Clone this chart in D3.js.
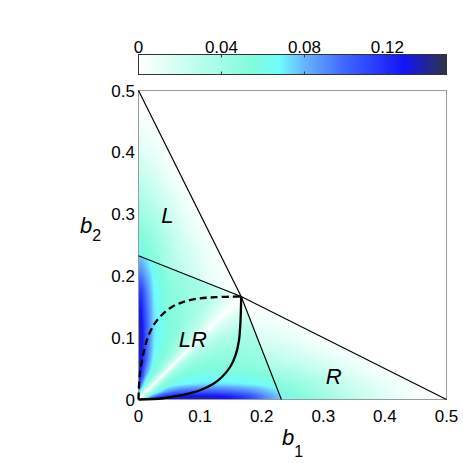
<!DOCTYPE html>
<html>
<head>
<meta charset="utf-8">
<script src="https://cdn.jsdelivr.net/npm/d3@7"></script>
<style>
body { margin: 0; background: #fff; }
svg { display: block; font-family: "Liberation Sans", Arial, sans-serif; }
</style>
</head>
<body>
<svg id="chart" width="463" height="463"></svg>
<script>
/* jshint esversion:6 */
/* global d3 */

// map is mirror symmetric about b1 = b2, so values are read against
// a = min(b1, b2) (distance from the nearer axis) and d = |b1 - b2|

// LR region
const innerA = [0, 0.005, 0.012, 0.025, 0.05, 0.075, 0.1, 0.125, 0.15, 0.17];
const innerD = [0, 0.006, 0.015, 0.03, 0.05, 0.08, 0.11, 0.14, 0.17, 0.2, 0.235];
const innerLevel = [
	[0, 0.05, 0.10, 0.125, 0.135, 0.138, 0.138, 0.13, 0.118, 0.095, 0.072],
	[0, 0.035, 0.08, 0.11, 0.125, 0.132, 0.132, 0.125, 0.112, 0.09, 0.07],
	[0, 0.03, 0.06, 0.085, 0.1, 0.105, 0.105, 0.1, 0.092, 0.078, 0.065],
	[0, 0.03, 0.05, 0.062, 0.068, 0.072, 0.072, 0.07, 0.066, 0.06, 0.055],
	[0, 0.025, 0.04, 0.05, 0.055, 0.055, 0.052, 0.05, 0.045, 0.042, 0.04],
	[0, 0.02, 0.032, 0.04, 0.045, 0.046, 0.045, 0.042, 0.04, 0.038, 0.035],
	[0, 0.014, 0.024, 0.032, 0.037, 0.039, 0.038, 0.036, 0.034, 0.032, 0.03],
	[0, 0.008, 0.015, 0.022, 0.028, 0.032, 0.032, 0.03, 0.03, 0.03, 0.03],
	[0, 0.004, 0.008, 0.013, 0.018, 0.02, 0.02, 0.02, 0.02, 0.02, 0.02],
	[0, 0.002, 0.004, 0.006, 0.008, 0.01, 0.01, 0.01, 0.01, 0.01, 0.01]
];

// L and R regions
const outerA = [0, 0.01, 0.025, 0.05, 0.075, 0.1, 0.125, 0.15, 0.17];
const outerD = [0, 0.05, 0.1, 0.15, 0.2, 0.25, 0.3, 0.35, 0.4, 0.45, 0.5];
const outerLevel = [
	[0.07, 0.07, 0.07, 0.07, 0.07, 0.063, 0.045, 0.03, 0.015, 0.005, 0],
	[0.062, 0.062, 0.062, 0.062, 0.062, 0.052, 0.037, 0.023, 0.01, 0.002, 0],
	[0.052, 0.052, 0.052, 0.052, 0.052, 0.042, 0.027, 0.015, 0.005, 0, 0],
	[0.038, 0.038, 0.038, 0.038, 0.033, 0.022, 0.01, 0, 0, 0, 0],
	[0.028, 0.028, 0.028, 0.024, 0.015, 0.005, 0, 0, 0, 0, 0],
	[0.016, 0.016, 0.016, 0.01, 0, 0, 0, 0, 0, 0, 0],
	[0.01, 0.01, 0.004, 0, 0, 0, 0, 0, 0, 0, 0],
	[0.005, 0, 0, 0, 0, 0, 0, 0, 0, 0, 0],
	[0, 0, 0, 0, 0, 0, 0, 0, 0, 0, 0]
];

// region borders
const borderA = [[0, 0.5], [1 / 6, 1 / 6], [0.232, 0]];
const borderB = [[0.5, 0], [1 / 6, 1 / 6], [0, 0.2325]];

// thick curves inside LR
const solidCurve = [[0, 0], [0.04, 0.002], [0.07, 0.007], [0.1, 0.015], [0.121, 0.025], [0.135, 0.036],
	[0.149, 0.053], [0.158, 0.073], [0.163, 0.095], [0.1655, 0.125], [1 / 6, 1 / 6]];
const dashedCurve = [[0, 0], [0.002, 0.04], [0.007, 0.07], [0.015, 0.1], [0.025, 0.121], [0.036, 0.135],
	[0.053, 0.149], [0.073, 0.158], [0.095, 0.163], [0.125, 0.1655], [1 / 6, 1 / 6]];

const regionNames = ['L', 'LR', 'R'];
const regionSpots = [[0.047, 0.285], [0.088, 0.085], [0.317, 0.025]];

const axisTicks = [0, 0.1, 0.2, 0.3, 0.4, 0.5];
const barTicks = [0, 0.04, 0.08, 0.12];
const barMax = 0.1485;
const colorStops = [0, 0.055, 0.068, 0.08, 0.1, 0.128, 0.1485];
const colorHex = ['#ffffff', '#80fcdc', '#6efcfc', '#68b4ff', '#3e64ff', '#1414fa', '#2e3442'];

let svg = d3.select('#chart'),
	x = d3.scaleLinear().domain([0, 0.5]).range([138.5, 446.5]),
	y = d3.scaleLinear().domain([0, 0.5]).range([399.5, 90.5]),
	color = d3.scaleLinear().domain(colorStops).range(colorHex).clamp(true),
	bar = d3.scaleLinear().domain([0, barMax]).range([138.5, 446.5]),
	polyLR = [[0, 0], borderA[2], borderA[1], borderB[2]],
	polyL = [borderB[2], borderB[1], borderA[0]],
	polyR = [borderA[2], borderA[1], borderB[0]];

function cellIndex(list, v) {
	return Math.max(0, Math.min(list.length - 2, d3.bisectRight(list, v) - 1));
}

function lookup(rowsAt, colsAt, table, a, d) {
	var i = cellIndex(rowsAt, a),
		j = cellIndex(colsAt, d),
		ty = Math.max(0, Math.min(1, (a - rowsAt[i]) / (rowsAt[i + 1] - rowsAt[i]))),
		tx = Math.max(0, Math.min(1, (d - colsAt[j]) / (colsAt[j + 1] - colsAt[j]))),
		low = (1 - tx) * table[i][j] + tx * table[i][j + 1],
		high = (1 - tx) * table[i + 1][j] + tx * table[i + 1][j + 1];

	return (1 - ty) * low + ty * high;
}

function valueAt(b1, b2) {
	var p = [b1, b2],
		a = Math.min(b1, b2),
		d = Math.abs(b1 - b2);

	if (d3.polygonContains(polyLR, p)) {
		return lookup(innerA, innerD, innerLevel, a, d);
	}
	if (d3.polygonContains(polyL, p) || d3.polygonContains(polyR, p)) {
		return lookup(outerA, outerD, outerLevel, a, d);
	}
	return 0;
}

function drawMap() {
	var left = 139,
		top = 91,
		w = 308,
		h = 309,
		canvas = document.createElement('canvas'),
		ctx,
		img,
		px,
		py,
		c,
		k;

	canvas.width = w;
	canvas.height = h;
	ctx = canvas.getContext('2d');
	img = ctx.createImageData(w, h);

	for (py = 0; py < h; py++) {
		for (px = 0; px < w; px++) {
			c = d3.rgb(color(valueAt(x.invert(left + px + 0.5), y.invert(top + py + 0.5))));
			k = (py * w + px) * 4;
			img.data[k] = c.r;
			img.data[k + 1] = c.g;
			img.data[k + 2] = c.b;
			img.data[k + 3] = 255;
		}
	}
	ctx.putImageData(img, 0, 0);

	svg.append('image')
		.attr('x', left)
		.attr('y', top)
		.attr('width', w)
		.attr('height', h)
		.attr('href', canvas.toDataURL());
}

drawMap();

// frame
svg.append('rect')
	.attr('x', x(0))
	.attr('y', y(0.5))
	.attr('width', x(0.5) - x(0))
	.attr('height', y(0) - y(0.5))
	.attr('fill', 'none')
	.attr('stroke', '#9a9a9a')
	.attr('stroke-width', 1);

let line = d3.line()
	.x(function(d) { return x(d[0]); })
	.y(function(d) { return y(d[1]); });

[borderA, borderB].forEach(function(b) {
	svg.append('path')
		.attr('d', line(b))
		.attr('fill', 'none')
		.attr('stroke', '#000')
		.attr('stroke-width', 1.2);
});

let smooth = line.curve(d3.curveCatmullRom);

svg.append('path')
	.attr('d', smooth(solidCurve))
	.attr('fill', 'none')
	.attr('stroke', '#000')
	.attr('stroke-width', 2.3);

svg.append('path')
	.attr('d', smooth(dashedCurve))
	.attr('fill', 'none')
	.attr('stroke', '#000')
	.attr('stroke-width', 2.3)
	.attr('stroke-dasharray', '7,4');

// region names
svg.selectAll('.region')
	.data(regionNames)
	.enter().append('text')
		.attr('class', 'region')
		.attr('x', function(d, i) { return x(regionSpots[i][0]); })
		.attr('y', function(d, i) { return y(regionSpots[i][1]); })
		.attr('text-anchor', 'middle')
		.style('font-size', '22px')
		.style('font-style', 'italic')
		.text(function(d) { return d; });

// tick labels
svg.selectAll('.xtick')
	.data(axisTicks)
	.enter().append('text')
		.attr('x', function(d) { return x(d); })
		.attr('y', 421.5)
		.attr('text-anchor', 'middle')
		.style('font-size', '17px')
		.text(function(d) { return d; });

svg.selectAll('.ytick')
	.data(axisTicks)
	.enter().append('text')
		.attr('x', 135)
		.attr('y', function(d) { return y(d) + 6; })
		.attr('text-anchor', 'end')
		.style('font-size', '17px')
		.text(function(d) { return d; });

// axis titles
let t1 = svg.append('text').attr('x', 282).attr('y', 445).style('font-size', '22px');
t1.append('tspan').style('font-style', 'italic').text('b');
t1.append('tspan').attr('dy', 12).style('font-size', '16px').text('1');

let t2 = svg.append('text').attr('x', 80).attr('y', 233).style('font-size', '22px');
t2.append('tspan').style('font-style', 'italic').text('b');
t2.append('tspan').attr('dy', 8).style('font-size', '16px').text('2');

// colour bar
let grad = svg.append('defs').append('linearGradient')
	.attr('id', 'barGrad')
	.attr('x1', '0%').attr('x2', '100%').attr('y1', '0%').attr('y2', '0%');

grad.selectAll('stop')
	.data(colorStops)
	.enter().append('stop')
		.attr('offset', function(d) { return (d / barMax * 100) + '%'; })
		.attr('stop-color', function(d, i) { return colorHex[i]; });

svg.append('rect')
	.attr('x', bar(0))
	.attr('y', 54.5)
	.attr('width', bar(barMax) - bar(0))
	.attr('height', 20)
	.attr('fill', 'url(#barGrad)')
	.attr('stroke', '#333')
	.attr('stroke-width', 1);

svg.selectAll('.bartickTop')
	.data(barTicks.slice(1))
	.enter().append('line')
		.attr('x1', function(d) { return bar(d); })
		.attr('x2', function(d) { return bar(d); })
		.attr('y1', 54.5)
		.attr('y2', 57.5)
		.attr('stroke', '#333');

svg.selectAll('.bartickBottom')
	.data(barTicks.slice(1))
	.enter().append('line')
		.attr('x1', function(d) { return bar(d); })
		.attr('x2', function(d) { return bar(d); })
		.attr('y1', 71.5)
		.attr('y2', 74.5)
		.attr('stroke', '#333');

svg.selectAll('.barlabel')
	.data(barTicks)
	.enter().append('text')
		.attr('x', function(d) { return bar(d); })
		.attr('y', 53)
		.attr('text-anchor', 'middle')
		.style('font-size', '17px')
		.text(function(d) { return d; });
</script>
</body>
</html>
